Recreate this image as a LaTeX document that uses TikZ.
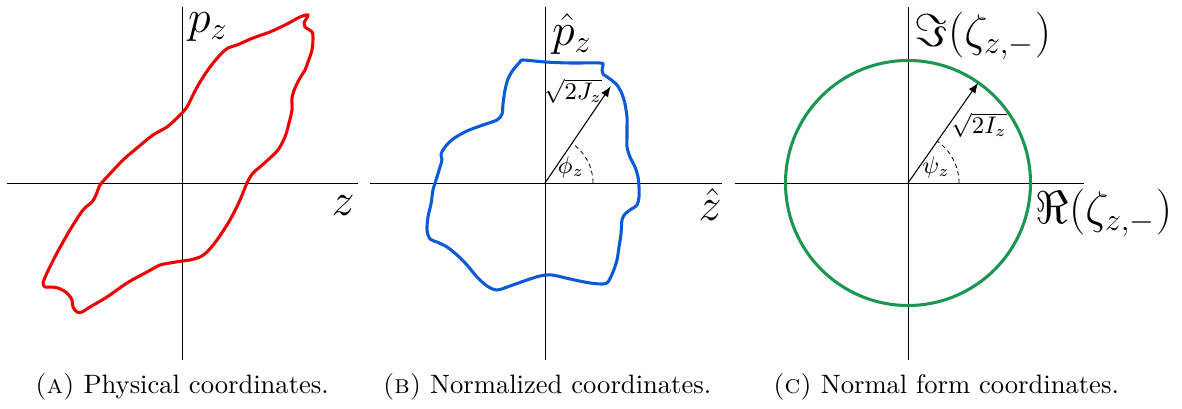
\documentclass[tikz,border=0pt]{standalone}
\usepackage{amsmath,amssymb}
\usepackage{tikz}
\usetikzlibrary{arrows}
\definecolor{orbitred}{RGB}{235,0,0}
\definecolor{orbitblue}{RGB}{10,90,215}
\definecolor{orbitgreen}{RGB}{25,150,80}
\begin{document}
\begin{tikzpicture}[%
  x=0.376pt, y=0.376pt,%
  axisline/.style={line width=0.35pt, draw=black},%
  orbit/.style={line width=1.15pt, line join=round},%
  radarrow/.style={-latex, line width=0.4pt},%
  anglearc/.style={line width=0.3pt, dash pattern=on 1.6pt off 1.3pt},%
  axlabel/.style={font=\LARGE, inner sep=0pt},%
  smalllabel/.style={font=\small, inner sep=0pt},%
  subcap/.style={anchor=base, font=\normalsize, inner sep=0pt}%
]
  \useasboundingbox (0,0) rectangle (1182,409);

  % (a) physical
  \begin{scope}[shift={(182,226)}]
    \coordinate (oA) at (0,0);
    \coordinate (aW) at (-175,0);
    \coordinate (aE) at (176,0);
    \coordinate (aS) at (0,-177);
    \coordinate (aN) at (0,176);
    \draw[axisline] (aW) -- (aE);
    \draw[axisline] (aS) -- (aN);
    \draw[orbit, orbitred] plot[smooth cycle, tension=0.5] coordinates {%
      (126,168) (122,160) (123,156) (130,151) (131,145) (130,133) (126,121)
      (123,113) (118,105) (113,95) (110,85) (110,73) (107,60) (103,46) (96,33)
      (88,25) (78,16) (71,10) (65,0) (58,-17) (48,-37) (35,-57) (25,-69)
      (18,-74) (8,-77) (0,-78) (-12,-80) (-22,-82) (-35,-89) (-55,-100)
      (-75,-114) (-92,-124) (-100,-129) (-105,-129) (-109,-124) (-110,-117)
      (-115,-110) (-124,-105) (-132,-104) (-137,-104) (-139,-100) (-135,-90)
      (-125,-70) (-112,-47) (-99,-27) (-90,-19) (-86,-12) (-82,-2)
      (-75,6) (-59,23) (-45,35) (-29,48) (-15,56) (-5,65) (0,70) (5,76)
      (11,88) (18,101) (28,116) (38,128) (46,135) (55,138) (71,145) (88,151)
      (105,159) (118,166)};
    \node[axlabel] (pzA) at (26,156) {$p_z$};
    \node[axlabel] (zA) at (161,-23) {$z$};
  \end{scope}

  % (b) normalized
  \begin{scope}[shift={(545,226)}]
    \coordinate (oB) at (0,0);
    \coordinate (bW) at (-175,0);
    \coordinate (bE) at (177,0);
    \coordinate (bS) at (0,-177);
    \coordinate (bN) at (0,176);
    \coordinate (bTip) at (55.8:117);
    \draw[axisline] (bW) -- (bE);
    \draw[axisline] (bS) -- (bN);
    \draw[orbit, orbitblue] plot[smooth cycle, tension=0.5] coordinates {%
      (-22,123) (0,121) (25,120) (55,120) (58,118) (57,113) (58,109) (65,104)
      (72,98) (77,89) (80,79) (82,66) (82,56) (82,46) (82,36) (85,26) (90,16)
      (93,6) (94,-4) (94,-14) (92,-22) (85,-27) (80,-31) (77,-37) (76,-51)
      (74,-64) (72,-77) (68,-89) (63,-99) (58,-101) (45,-100) (25,-96)
      (7,-92) (-5,-93) (-18,-97) (-35,-103) (-48,-107) (-58,-103) (-68,-94)
      (-78,-82) (-88,-72) (-98,-64) (-108,-59) (-115,-56) (-118,-47)
      (-117,-34) (-114,-21) (-112,-7) (-108,6) (-105,16) (-103,23) (-104,29)
      (-100,36) (-92,44) (-78,52) (-62,58) (-48,63) (-43,69) (-42,79)
      (-40,93) (-37,104) (-32,113) (-25,121)};
    \draw[radarrow] (oB) -- (bTip);
    \draw[anglearc] (48,0) arc (0:55.8:48);
    \node[axlabel] (pzB) at (27,149) {$\hat{p}_z$};
    \node[axlabel] (zB) at (165,-22) {$\hat{z}$};
    \node[smalllabel] (rB) at (28,92) {$\sqrt{2J_z}$};
    \node[smalllabel] (phB) at (26,15) {$\phi_z$};
  \end{scope}

  % (c) normal form
  \begin{scope}[shift={(908,226)}]
    \coordinate (oC) at (0,0);
    \coordinate (cW) at (-173,0);
    \coordinate (cE) at (176,0);
    \coordinate (cS) at (0,-177);
    \coordinate (cN) at (0,176);
    \coordinate (cTip) at (55:122.5);
    \draw[axisline] (cW) -- (cE);
    \draw[axisline] (cS) -- (cN);
    \draw[orbit, orbitgreen] (oC) circle[radius=122.5];
    \draw[radarrow] (oC) -- (cTip);
    \draw[anglearc] (51,0) arc (0:55:51);
    \node[axlabel] (imC) at (75,147) {$\Im(\zeta_{z,-})$};
    \node[axlabel] (reC) at (196,-30) {$\Re(\zeta_{z,-})$};
    \node[smalllabel] (rC) at (71,58) {$\sqrt{2I_z}$};
    \node[smalllabel] (psC) at (28,15) {$\psi_z$};
  \end{scope}

  \node[subcap] (capA) at (182,15) {\textsc{(a)} Physical coordinates.};
  \node[subcap] (capB) at (547,15) {\textsc{(b)} Normalized coordinates.};
  \node[subcap] (capC) at (946,15) {\textsc{(c)} Normal form coordinates.};
\end{tikzpicture}
\end{document}
